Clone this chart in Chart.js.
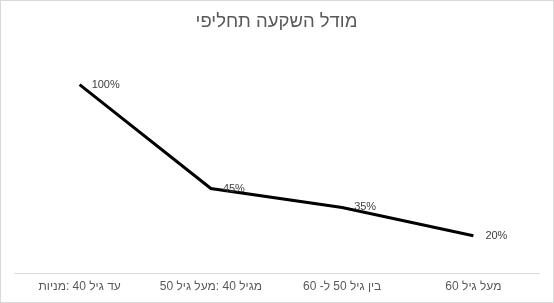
<!DOCTYPE html>
<html>
<head>
<meta charset="utf-8">
<script src="https://cdn.jsdelivr.net/npm/chart.js@4"></script>
<style>
  body { margin: 0; background: #fff; }
  #wrap { width: 554px; height: 303px; }
</style>
</head>
<body>
<div id="wrap"><canvas id="lineChart" width="554" height="303"></canvas></div>
<script>
const title = "מודל השקעה תחליפי";

const categories = ["עד גיל 40 :מניות", "מגיל 40 :מעל גיל 50", "בין גיל 50 ל- 60", "מעל גיל 60"];

const shares = [1.00, 0.45, 0.35, 0.20];

// border around the whole chart, like the Excel chart frame
const framePlugin = {
  id: "frame",
  beforeDraw(chart) {
    const c = chart.ctx;
    c.save();
    c.fillStyle = "#fff";
    c.fillRect(0, 0, chart.width, chart.height);
    c.strokeStyle = "#d9d9d9";
    c.lineWidth = 1;
    c.strokeRect(0.5, 0.5, chart.width - 1, chart.height - 1);
    c.restore();
  }
};

// value labels to the right of each point
const valueLabels = {
  id: "valueLabels",
  afterDatasetsDraw(chart) {
    const c = chart.ctx;
    const meta = chart.getDatasetMeta(0);
    c.save();
    c.font = "11px 'Liberation Sans', Arial, sans-serif";
    c.fillStyle = "#404040";
    c.textAlign = "left";
    c.textBaseline = "middle";
    meta.data.forEach((pt, i) => {
      c.fillText(Math.round(shares[i] * 100) + "%", pt.x + 12, pt.y);
    });
    c.restore();
  }
};

const ctx = document.getElementById("lineChart").getContext("2d");
const chart = new Chart(ctx, {
  type: "line",
  data: {
    labels: categories,
    datasets: [{
      data: shares,
      borderColor: "#000",
      borderWidth: 3,
      pointRadius: 0,
      tension: 0,
      fill: false
    }]
  },
  options: {
    responsive: false,
    animation: false,
    layout: { padding: { left: 14, right: 15, top: 0, bottom: 3 } },
    plugins: {
      legend: { display: false },
      tooltip: { enabled: false },
      title: {
        display: true,
        text: title,
        color: "#595959",
        font: { family: "'Liberation Sans', Arial, sans-serif", size: 18.5, weight: "normal" },
        padding: { top: 11, bottom: 13.6 }
      }
    },
    scales: {
      x: {
        offset: true,
        grid: { display: false, drawTicks: false },
        border: { display: true, color: "#d9d9d9", width: 1 },
        ticks: {
          color: "#595959",
          padding: 6,
          maxRotation: 0,
          font: { family: "'Liberation Sans', Arial, sans-serif", size: 12 }
        }
      },
      y: {
        display: false,
        min: 0,
        max: 1.2
      }
    }
  },
  plugins: [framePlugin, valueLabels]
});
</script>
</body>
</html>
